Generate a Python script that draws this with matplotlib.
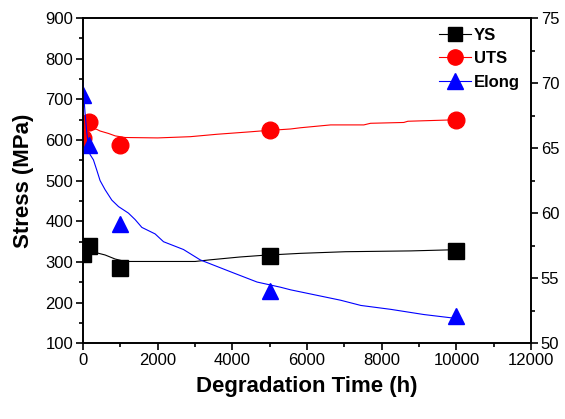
import numpy as np
import matplotlib
matplotlib.use("Agg")
import matplotlib.pyplot as plt
from matplotlib.lines import Line2D
from matplotlib.ticker import MultipleLocator

plt.rcParams["font.family"] = ["Liberation Sans", "DejaVu Sans"]

# measured points
time_pts = [0, 168, 1000, 5000, 10000]
ys_pts = [320, 340, 285, 315, 326]
uts_pts = [606, 645, 587, 624, 649]
elong_pts = [69.1, 65.2, 59.2, 54.0, 52.1]

# fitted curves
ys_t = [0, 100, 376, 590, 860, 1128, 2000, 3000, 3400, 4200, 4800, 5825, 7030, 8780, 10000]
ys_v = [330, 333, 322, 317, 307, 301, 301, 301, 305, 312, 316, 321, 325, 327, 330]

uts_t = [0, 100, 368, 456, 680, 860, 1128, 2000, 2870, 3590, 4480, 4750, 5560, 5825,
         6630, 7520, 7700, 8590, 8700, 9770, 10000]
uts_v = [640, 632, 626, 622, 616, 610, 606, 605, 608, 614, 620, 622, 627, 630,
         637, 637, 641, 643, 646, 649, 650]

el_t = [0, 50, 100, 150, 188, 277, 368, 456, 590, 770, 950, 1215, 1395, 1575, 1930,
        2155, 2690, 3140, 4030, 4660, 5290, 5560, 6900, 7440, 8240, 9130, 10000]
el_v = [70.0, 67.8, 66.2, 65.0, 64.5, 64.1, 63.3, 62.5, 61.8, 61.0, 60.5, 60.0, 59.5,
        58.9, 58.4, 57.8, 57.2, 56.4, 55.4, 54.7, 54.3, 54.1, 53.3, 52.9, 52.6, 52.2, 51.9]

fig = plt.figure(figsize=(5.65, 4.19), dpi=100)
ax = fig.add_axes([0.147, 0.181, 0.793, 0.776])
ax2 = ax.twinx()

ax.plot(ys_t, ys_v, color="black", lw=0.8)
ax.plot(time_pts, ys_pts, "s", color="black", ms=11, ls="none")
ax.plot(uts_t, uts_v, color="red", lw=0.8)
ax.plot(time_pts, uts_pts, "o", color="red", ms=12, ls="none")
ax2.plot(el_t, el_v, color="blue", lw=0.8)
ax2.plot(time_pts, elong_pts, "^", color="blue", ms=12, ls="none")

ax.set_xlim(0, 12000)
ax.set_ylim(100, 900)
ax2.set_ylim(50, 75)

ax.xaxis.set_major_locator(MultipleLocator(2000))
ax.xaxis.set_minor_locator(MultipleLocator(1000))
ax.yaxis.set_major_locator(MultipleLocator(100))
ax.yaxis.set_minor_locator(MultipleLocator(50))
ax2.yaxis.set_major_locator(MultipleLocator(5))
ax2.yaxis.set_minor_locator(MultipleLocator(2.5))

for a in (ax, ax2):
    a.tick_params(which="both", direction="out", width=1.2, labelsize=12, pad=2)
    a.tick_params(which="major", length=5)
    a.tick_params(which="minor", length=3)
    for s in a.spines.values():
        s.set_linewidth(1.2)
ax.tick_params(top=False, right=False)

ax.set_xlabel("Degradation Time (h)", fontsize=16, fontweight="bold", labelpad=6)
ax.set_ylabel("Stress (MPa)", fontsize=16, fontweight="bold", labelpad=8)

handles = [
    Line2D([], [], color="black", lw=0.8, marker="s", ms=10),
    Line2D([], [], color="red", lw=0.8, marker="o", ms=11),
    Line2D([], [], color="blue", lw=0.8, marker="^", ms=11),
]
ax2.legend(handles, ["YS", "UTS", "Elong"], loc="upper right", frameon=False,
           prop={"weight": "bold", "size": 12}, handlelength=1.9, handletextpad=0.2,
           labelspacing=0.5, borderaxespad=0, bbox_to_anchor=(0.99, 0.99))

fig.savefig("out.png", dpi=100)
